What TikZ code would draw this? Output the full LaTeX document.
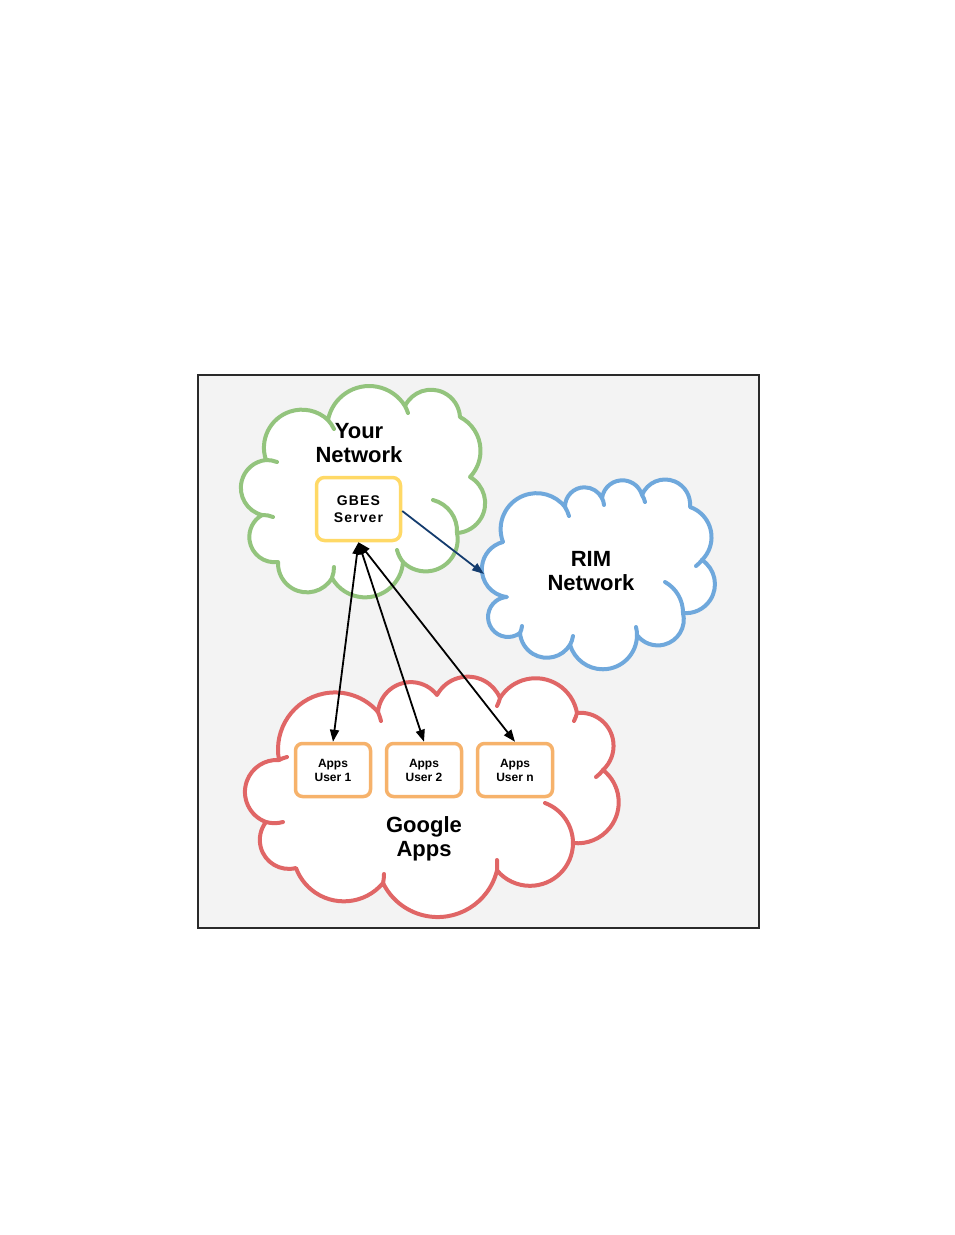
\documentclass[tikz,border=0pt]{standalone}
\usepackage{fontspec}
\setmainfont{Liberation Sans}
\newfontfamily\gbesfont{Liberation Sans}[LetterSpace=8]
\usetikzlibrary{arrows.meta,svg.path}
\definecolor{framefill}{HTML}{F3F3F3}
\definecolor{frameline}{HTML}{2A2A2A}
\definecolor{cgreen}{HTML}{93C47D}
\definecolor{cblue}{HTML}{6FA8DC}
\definecolor{cred}{HTML}{E06666}
\definecolor{cyellow}{HTML}{FFD966}
\definecolor{corange}{HTML}{F6B26B}
\definecolor{darkblue}{HTML}{143C6E}
\tikzset{
  cloudline/.style={line width=4pt, line join=round, line cap=round, yscale=-1},
  cloudfill/.style={cloudline, fill=white},
  gbesbox/.style={draw=cyellow, line width=3.5pt, rounded corners=8pt, fill=white,
    minimum width=84pt, minimum height=63pt, inner sep=0pt, align=center},
  appbox/.style={draw=corange, line width=3.5pt, rounded corners=7pt, fill=white,
    minimum width=75pt, minimum height=53pt, inner sep=0pt, align=center,
    font=\bfseries\fontsize{12}{14}\selectfont},
  bigtext/.style={align=center, font=\bfseries\fontsize{22}{24}\selectfont},
  dbl/.style={line width=1.8pt, {Triangle[length=12pt,width=9pt]}-{Triangle[length=12pt,width=9pt]}},
  toRim/.style={line width=1.8pt, draw=darkblue, -{Triangle[length=12pt,width=8.5pt]}}
}
\begin{document}
\begin{tikzpicture}[x=1pt,y=-1pt]
\useasboundingbox[fill=white] (0,0) rectangle (954,1235);
% frame
\draw[fill=framefill, draw=frameline, line width=1.5pt] (198,375) rectangle (759,928);

% green cloud (Your Network)
\path[cloudfill, draw=cgreen] svg "M 266 460 A 38 38 0 0 1 328 420 A 42 42 0 0 1 405 406 A 29 29 0 0 1 460 417 A 38 38 0 0 1 470 477 A 30 30 0 0 1 457 533 A 32 32 0 0 1 403 562 A 38 38 0 0 1 332 578 A 29 29 0 0 1 278 562 A 25.3 25.3 0 0 1 262 515 A 28 28 0 0 1 266 460 Z";
\path[cloudline, draw=cgreen] svg "M 266 460 A 28 28 0 0 1 277 462";
\path[cloudline, draw=cgreen] svg "M 328 420 A 38 38 0 0 1 334 429";
\path[cloudline, draw=cgreen] svg "M 405 406 A 42 42 0 0 1 408 413";
\path[cloudline, draw=cgreen] svg "M 433 500 A 32 32 0 0 1 457 533";
\path[cloudline, draw=cgreen] svg "M 403 562 A 32 32 0 0 1 397 550";
\path[cloudline, draw=cgreen] svg "M 334 567 A 29 29 0 0 1 332 578";
\path[cloudline, draw=cgreen] svg "M 262 515 A 25 25 0 0 1 273 517";

% blue cloud (RIM Network)
\path[cloudfill, draw=cblue] svg "M 503 542 A 36 36 0 0 1 565 507 A 19.5 19.5 0 0 1 602 498 A 20.5 20.5 0 0 1 642 495 A 25 25 0 0 1 690 507 A 32 32 0 0 1 702 560 A 29 29 0 0 1 683 613 A 26 26 0 0 1 637 635 A 34.2 34.2 0 0 1 570 645 A 27 27 0 0 1 520 633 A 20 20 0 1 1 507 597 A 28 28 0 0 1 503 542 Z";
\path[cloudline, draw=cblue] svg "M 665 582 A 35 35 0 0 1 683 613";
\path[cloudline, draw=cblue] svg "M 565 507 A 36 36 0 0 1 569 516";
\path[cloudline, draw=cblue] svg "M 602 498 A 19 19 0 0 1 604 505";
\path[cloudline, draw=cblue] svg "M 642 495 A 20 20 0 0 1 645 502";
\path[cloudline, draw=cblue] svg "M 702 560 A 32 32 0 0 1 696 566";
\path[cloudline, draw=cblue] svg "M 636 627 A 34 34 0 0 1 637 635";
\path[cloudline, draw=cblue] svg "M 573 636 A 27 27 0 0 1 570 645";
\path[cloudline, draw=cblue] svg "M 522 626 A 20 20 0 0 1 520 633";

% red cloud (Google Apps)
\path[cloudfill, draw=cred] svg "M 279 760 A 57 57 0 0 1 378 712 A 33 33 0 0 1 437 695 A 35 35 0 0 1 500 698 A 42 42 0 0 1 577 713 A 33 33 0 0 1 603 770 A 41 41 0 0 1 573 843 A 43 43 0 0 1 497 870 A 61 61 0 0 1 383 883 A 51 51 0 0 1 296 868 A 29 29 0 0 1 266 822 A 32 32 0 0 1 279 760 Z";
\path[cloudline, draw=cred] svg "M 545 803 A 43 43 0 0 1 573 843";
\path[cloudline, draw=cred] svg "M 378 712 A 57 57 0 0 1 381 721";
\path[cloudline, draw=cred] svg "M 500 698 A 35 35 0 0 1 497 706";
\path[cloudline, draw=cred] svg "M 577 713 A 42 42 0 0 1 574 721";
\path[cloudline, draw=cred] svg "M 603 770 A 33 33 0 0 1 596 777";
\path[cloudline, draw=cred] svg "M 497 860 A 61 61 0 0 1 497 870";
\path[cloudline, draw=cred] svg "M 384 874 A 51 51 0 0 1 383 883";
\path[cloudline, draw=cred] svg "M 283 822 A 31 31 0 0 1 266 822";
\path[cloudline, draw=cred] svg "M 279 760 A 32 32 0 0 1 287 757";

% labels
\node[bigtext] (ynet) at (359,443) {Your\\Network};
\node[bigtext] (rim) at (591,571) {RIM\\Network};
\node[bigtext] (gapps) at (424,839) {Google\\Apps};
\coordinate (rimL) at (484,574);

% boxes
\node[gbesbox, font=\gbesfont\bfseries\fontsize{14}{17}\selectfont] (gbes) at (358.5,509) {GBES\\Server};
\node[appbox] (u1) at (333,770) {Apps\\User 1};
\node[appbox] (u2) at (424,770) {Apps\\User 2};
\node[appbox] (un) at (515,770) {Apps\\User n};

% connectors
\draw[toRim] (gbes.east) ++(0,2) -- (rimL);
\draw[dbl] (gbes.south) -- (u1.north);
\draw[dbl] (gbes.south) -- (u2.north);
\draw[dbl] (gbes.south) -- (un.north);
\end{tikzpicture}
\end{document}
